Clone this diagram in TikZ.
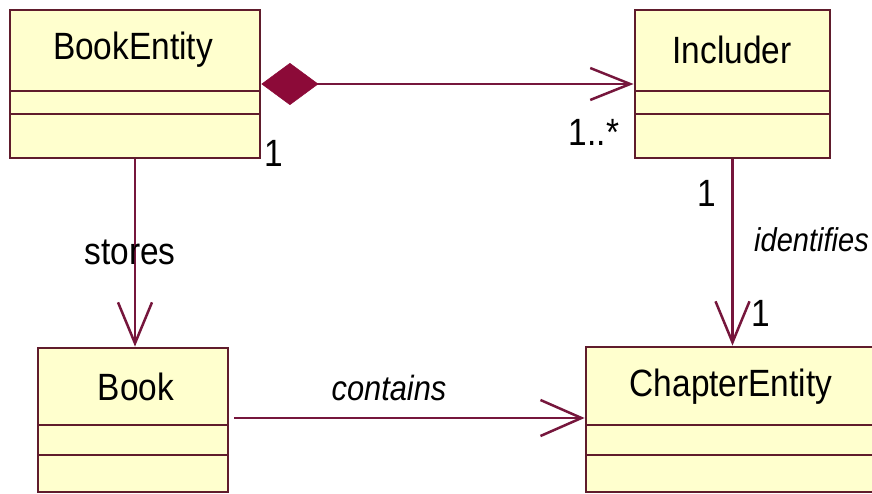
\documentclass[tikz,border=0pt]{standalone}
\usepackage{fontspec}
\setmainfont[FakeStretch=0.88]{Liberation Sans}
\usetikzlibrary{arrows.meta}
\definecolor{boxfill}{RGB}{255,255,206}
\definecolor{boxline}{RGB}{96,28,44}
\definecolor{conn}{RGB}{118,22,60}
\definecolor{diam}{RGB}{140,10,56}
\tikzset{
  cls/.style={draw=boxline, fill=boxfill, line width=2.8pt, rectangle, inner sep=0pt},
  clsname/.style={font=\fontsize{38}{40}\selectfont, text=black, inner sep=0pt},
  mult/.style={font=\fontsize{38}{40}\selectfont, text=black, inner sep=0pt},
  assoc/.style={font=\itshape\fontsize{35}{38}\selectfont, text=black, inner sep=0pt},
  plain/.style={font=\fontsize{38}{40}\selectfont, text=black, inner sep=0pt},
  conline/.style={draw=conn, line width=2.5pt},
  barb/.style={-{Straight Barb[length=41pt, width=34pt, line width=2.5pt]}},
  divider/.style={draw=boxline, line width=2.8pt}
}
\begin{document}
\begin{tikzpicture}[x=1pt, y=-1pt]
\clip (0,0) rectangle (872,494);
\fill[white] (0,0) rectangle (872,494);

% classes
\node[cls, minimum width=250pt, minimum height=148pt] (be) at (135,84) {};
\draw[divider] (10,91) -- (260,91) (10,114) -- (260,114);
\node[clsname] (beName) at (133,50) {BookEntity};

\node[cls, minimum width=195pt, minimum height=148pt] (inc) at (732.5,84) {};
\draw[divider] (635,91) -- (830,91) (635,114) -- (830,114);
\node[clsname] (incName) at (732,50) {Includer};

\node[cls, minimum width=190pt, minimum height=144pt] (book) at (133,420) {};
\draw[divider] (38,425) -- (228,425) (38,455) -- (228,455);
\node[clsname] (bookName) at (136,387) {Book};

\node[cls, minimum width=300pt, minimum height=145pt] (ch) at (736,419.5) {};
\draw[divider] (586,425) -- (886,425) (586,455) -- (886,455);
\node[clsname] (chName) at (731,387) {ChapterEntity};

% connectors
\draw[conline, {Diamond[length=57pt, width=42pt, fill=diam, color=diam, line width=0.5pt]}-{Straight Barb[length=40pt, width=32pt, line width=2.5pt]}]
  (be.east) -- (inc.west);
\draw[conline, barb] (be.south) -- (be.south |- book.north);
\draw[conline, barb] (inc.south) -- (inc.south |- ch.north);
\coordinate (bookOut) at ([xshift=5pt, yshift=2pt]book.east);
\draw[conline, -{Straight Barb[length=41pt, width=36pt, line width=2.5pt]}] (bookOut) -- (bookOut -| ch.west);

% labels
\node[mult] (m1) at (274,153) {1};
\node[mult] (m2) at (594,132) {1..*};
\node[mult] (m3) at (707,193) {1};
\node[mult] (m4) at (761,313) {1};
\node[plain] (lstores) at (130,252) {stores};
\node[assoc, anchor=west, font=\itshape\fontsize{33}{36}\selectfont] (lident) at (754,240) {identifies};
\node[assoc] (lcont) at (389,388) {contains};
\end{tikzpicture}
\end{document}
